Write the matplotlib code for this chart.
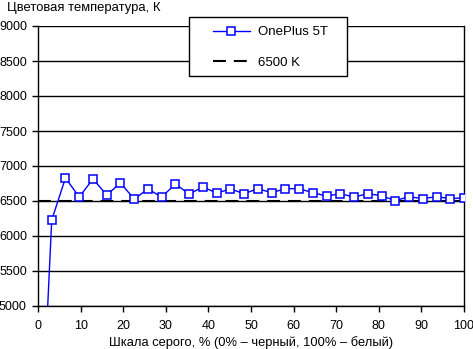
import numpy as np
import matplotlib
matplotlib.use('Agg')
import matplotlib.pyplot as plt
from matplotlib.patches import Rectangle

plt.rcParams['font.family'] = ['Liberation Sans', 'DejaVu Sans']

# gray levels 0..31 -> percent
levels = np.arange(32)
gray_pct = levels * 100 / 31
temp_k = [2050, 6229, 6829, 6557, 6814, 6586, 6757, 6529, 6671, 6557, 6743,
          6600, 6700, 6614, 6671, 6604, 6676, 6619, 6676, 6676, 6619, 6571,
          6604, 6557, 6604, 6576, 6505, 6562, 6533, 6562, 6533, 6547]
ref_x = [0, 100]
ref_k = [6500, 6500]

fig = plt.figure(figsize=(4.73, 3.49), dpi=100)
ax = fig.add_axes([38/473, 1-306/349, 426/473, 280/349])

ax.set_xlim(0, 100)
ax.set_ylim(5000, 9000)
ax.set_xticks(np.arange(0, 101, 10))
ax.set_yticks(np.arange(5000, 9001, 500))
ax.yaxis.grid(True, color='black', lw=1)
ax.set_axisbelow(True)
for s in ax.spines.values():
    s.set_linewidth(1)
ax.spines['top'].set_visible(False)
ax.tick_params(direction='out', length=4, width=1, labelsize=9)
ax.tick_params(axis='x', pad=6)
ax.tick_params(axis='y', pad=4)

l2, = ax.plot(ref_x, ref_k, color='black', lw=1.5, dashes=(6.2, 3.8), label='6500 K', zorder=3)
l1, = ax.plot(gray_pct, temp_k, color='#0000ff', lw=1, marker='s', ms=5.5,
              mfc='white', mec='#0000ff', mew=1.1, label='OnePlus 5T', zorder=4)

# legend box
fig.patches.append(Rectangle((189/473, 1-76/349), 158/473, 59/349, transform=fig.transFigure,
                             facecolor='white', edgecolor='black', lw=1, zorder=5))
leg = fig.legend(handles=[l1, l2], loc='upper left', bbox_to_anchor=(213/473, 1-26/349),
                 frameon=False, fontsize=9.5, handlelength=2.8, labelspacing=1.38,
                 borderpad=0, borderaxespad=0, handletextpad=0.6)
leg.set_zorder(6)

fig.text(7/473, 1-2/349, 'Цветовая температура, К', fontsize=9.4, va='top', ha='left')
ax.set_xlabel('Шкала серого, % (0% – черный, 100% – белый)', fontsize=9.3, labelpad=3)

fig.savefig('out.png', dpi=100)
